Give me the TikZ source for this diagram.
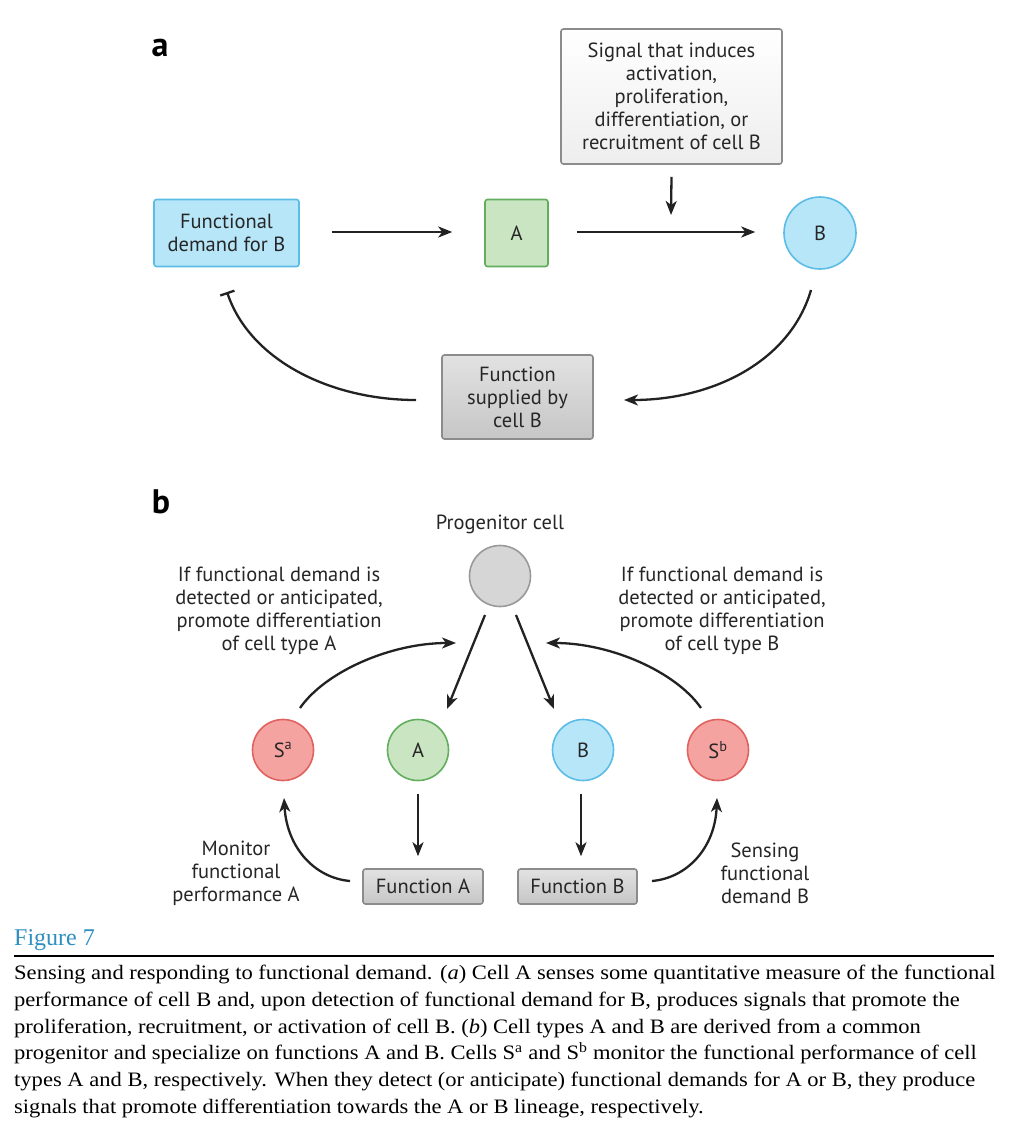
\documentclass[tikz,border=0pt]{standalone}
\usepackage{fontspec}
\setmainfont{Liberation Serif}
\newfontfamily\diagfont{PT Sans}
\newfontfamily\capfont[FakeStretch=1.10]{Liberation Serif}
\newfontfamily\figfont[FakeStretch=1.0]{Liberation Serif}
\usetikzlibrary{arrows.meta,calc}
\definecolor{txt}{HTML}{262626}
\definecolor{arrc}{HTML}{222222}
\definecolor{bluef}{HTML}{B8E6F9}
\definecolor{bluel}{HTML}{5BBCE6}
\definecolor{greenf}{HTML}{C9E5C1}
\definecolor{greenl}{HTML}{63AD5E}
\definecolor{pinkf}{HTML}{F5A3A1}
\definecolor{pinkl}{HTML}{E0625F}
\definecolor{grayf}{HTML}{D6D6D6}
\definecolor{grayl}{HTML}{999999}
\definecolor{boxtop}{HTML}{E2E2E2}
\definecolor{boxbot}{HTML}{C6C6C6}
\definecolor{boxl}{HTML}{8C8C8C}
\definecolor{figblue}{HTML}{2E8FC0}
\begin{document}
\begin{tikzpicture}[x=1pt,y=-1pt,
  font=\diagfont\fontsize{20.5}{23}\selectfont, text=txt,
  arr/.style={draw=arrc, line width=2.3pt, -{Stealth[length=14pt,width=11pt,inset=4pt]}},
  inhib/.style={draw=arrc, line width=2.3pt, -{Bar[width=15pt,line width=2.3pt]}},
  bluebox/.style={draw=bluel, fill=bluef, line width=1.6pt, rounded corners=2.5pt, inner sep=0pt, align=center},
  greenbox/.style={draw=greenl, fill=greenf, line width=1.6pt, rounded corners=2.5pt, inner sep=0pt, align=center},
  graybox/.style={draw=boxl, top color=boxtop, bottom color=boxbot, line width=1.6pt, rounded corners=2.5pt, inner sep=0pt, align=center},
  sigbox/.style={draw=boxl, top color=white, bottom color=boxtop!60, line width=1.6pt, rounded corners=2.5pt, inner sep=0pt, align=center},
  cell/.style={circle, line width=1.6pt, inner sep=0pt, minimum size=61pt},
  bluecell/.style={cell, draw=bluel, fill=bluef},
  greencell/.style={cell, draw=greenl, fill=greenf},
  pinkcell/.style={cell, draw=pinkl, fill=pinkf},
  graycell/.style={cell, draw=grayl, fill=grayf},
  lbl/.style={align=center, inner sep=0pt},
  panel/.style={font=\diagfont\bfseries\fontsize{34}{34}\selectfont, text=black, inner sep=0pt}
]
\useasboundingbox (0,0) rectangle (1017,1146);
\fill[white] (0,0) rectangle (1017,1146);

% ---------- panel a ----------
\node[panel] (pa) at (160,48) {a};
\node[sigbox, minimum width=221pt, minimum height=135pt] (sig) at (671.5,96.5)
  {Signal that induces\\activation,\\proliferation,\\differentiation, or\\recruitment of cell B};
\node[bluebox, minimum width=145pt, minimum height=67pt] (fd) at (226.5,233) {Functional\\demand for B};
\node[greenbox, minimum width=63pt, minimum height=67pt] (ca) at (516.5,233) {A};
\node[bluecell, minimum size=72pt] (cb) at (820,233) {B};
\node[graybox, minimum width=151pt, minimum height=84pt] (fs) at (517.5,397) {Function\\supplied by\\cell B};

\coordinate (sigend) at (671,215);
\draw[arr] (sig.south) ++(0,12) -- (sigend);
\draw[arr] ($(fd.east)+(32,-1)$) -- ($(ca.west)+(-32,-1)$);
\draw[arr] ($(ca.east)+(28,-1)$) -- ($(cb.west)+(-28,-1)$);

\coordinate (bstart) at (811,290);
\coordinate (fsin) at (624,400);
\draw[arr] (bstart) .. controls (790,362) and (712,400) .. (fsin);
\coordinate (fsout) at (416,400);
\coordinate (fdin) at (227,292);
\draw[inhib] (fsout) .. controls (330,400) and (250,360) .. (fdin);

% ---------- panel b ----------
\node[panel] (pb) at (161,502) {b};
\node[lbl] (plbl) at (500,524) {Progenitor cell};
\node[graycell] (prog) at (500,576) {};
\node[pinkcell] (sa) at (283,750) {S\textsuperscript{a}};
\node[greencell] (cA) at (418,750) {A};
\node[bluecell, minimum size=61pt] (cB) at (583,750) {B};
\node[pinkcell] (sb) at (718,750) {S\textsuperscript{b}};
\node[graybox, minimum width=120pt, minimum height=35pt] (fa) at (423,886.5) {Function A};
\node[graybox, minimum width=119pt, minimum height=35pt] (fb) at (577.5,886.5) {Function B};

\node[lbl] (tl) at (279,611) {If functional demand is\\detected or anticipated,\\promote differentiation\\of cell type A};
\node[lbl] (tr) at (722,611) {If functional demand is\\detected or anticipated,\\promote differentiation\\of cell type B};
\node[lbl] (tml) at (236,873) {Monitor\\functional\\performance A};
\node[lbl] (tmr) at (765,873) {Sensing\\functional\\demand B};

% progenitor to A and B
\coordinate (pl) at (485,615);
\coordinate (pr) at (516,615);
\coordinate (al) at (447,709);
\coordinate (br) at (554,709);
\draw[arr] (pl) -- (al);
\draw[arr] (pr) -- (br);

% A, B to functions
\draw[arr] (cA.south) ++(0,13) -- ($(fa.north)+(-5,-12)$);
\draw[arr] (cB.south) ++(-2,13) -- ($(fb.north)+(3.5,-12)$);

% S arcs to progenitor
\coordinate (sal) at (300,708);
\coordinate (satip) at (456,643);
\draw[arr] (sal) .. controls (325,672) and (390,643) .. (satip);
\coordinate (sbl) at (701,708);
\coordinate (sbtip) at (546,643);
\draw[arr] (sbl) .. controls (676,672) and (611,643) .. (sbtip);

% functions to sensors
\coordinate (fal) at (350,881);
\coordinate (satop) at (284,798);
\draw[arr] (fal) .. controls (315,878) and (287,848) .. (satop);
\coordinate (fbr) at (652,881);
\coordinate (sbtop) at (717,798);
\draw[arr] (fbr) .. controls (687,878) and (715,848) .. (sbtop);

% ---------- caption ----------
\node[anchor=west, inner sep=0pt, font=\figfont\fontsize{24}{26}\selectfont, text=figblue] (fig) at (14,940) {Figure 7};
\coordinate (rl) at (14,956);
\coordinate (rr) at (994,956);
\draw[black, line width=1.3pt] (rl) -- (rr);
\node[anchor=north west, inner sep=0pt, align=left, text=black,
  font=\capfont\fontsize{20.5}{26.7}\selectfont] (cap) at (14,965)
 {Sensing and responding to functional demand. (\textit{a}) Cell A senses some quantitative measure of the functional\\
  performance of cell B and, upon detection of functional demand for B, produces signals that promote the\\
  proliferation, recruitment, or activation of cell B. (\textit{b}) Cell types A and B are derived from a common\\
  progenitor and specialize on functions A and B. Cells S\textsuperscript{a} and S\textsuperscript{b} monitor the functional performance of cell\\
  types A and B, respectively. When they detect (or anticipate) functional demands for A or B, they produce\\
  signals that promote differentiation towards the A or B lineage, respectively.};
\end{tikzpicture}
\end{document}
